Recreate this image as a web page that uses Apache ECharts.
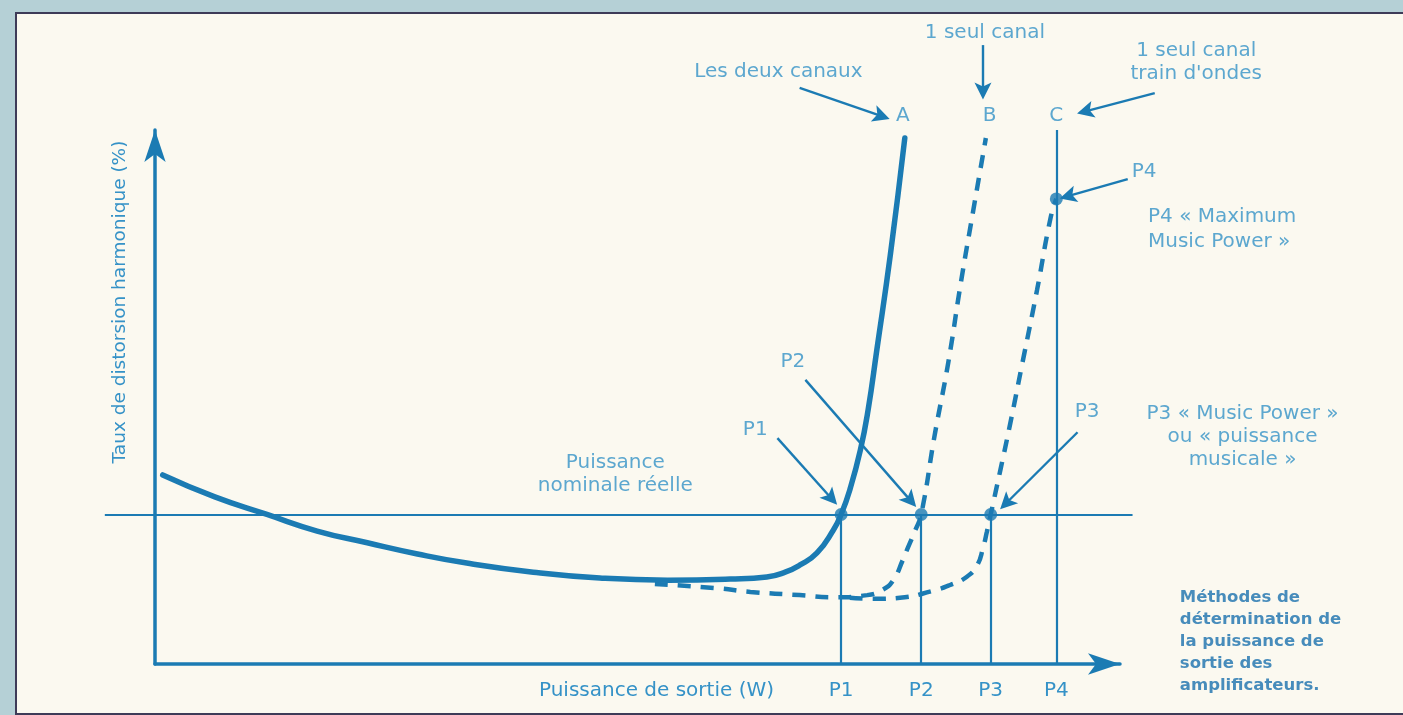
<!DOCTYPE html>
<html>
<head>
<meta charset="utf-8">
<script src="https://cdn.jsdelivr.net/npm/echarts@6/dist/echarts.min.js"></script>
<style>
  html,body{margin:0;padding:0;width:1403px;height:715px;overflow:hidden;background:#b5d0d6;}
  #frame{position:absolute;left:15px;top:12px;width:1400px;height:699px;background:#fbf9f0;border-left:2px solid #3e3b58;border-top:2px solid #3e3b58;border-bottom:2px solid #3e3b58;}
  #chart{position:absolute;left:0;top:0;width:1403px;height:715px;}
</style>
</head>
<body>
<div id="frame"></div>
<div id="chart"></div>
<script>
// ---- data (x: puissance de sortie, y: taux de distorsion, arbitrary units) ----
const curveA = [[0.8,35.4],[6.2,31.3],[11.6,28.0],[16.8,24.9],[22.0,22.7],[27.2,20.6],[32.3,18.9],[39.2,17.2],[46.1,16.1],[53.1,15.7],[59.6,15.9],[63.4,16.3],[65.3,17.2],[66.8,18.5],[68.6,20.8],[70.3,25.1],[71.1,28.0],[72.0,32.6],[73.1,40.1],[73.9,47.6],[74.8,58.8],[76.2,76.6],[77.7,98.5]];
const curveB = [[51.8,15.0],[58.2,14.2],[61.7,13.5],[66.8,12.9],[70.3,12.5],[73.8,12.9],[75.4,13.9],[76.5,15.7],[77.5,19.5],[78.0,21.7],[78.8,25.1],[79.4,28.0],[80.8,42.9],[82.2,56.4],[83.5,71.3],[84.8,85.0],[86.1,98.5]];
const curveC = [[72.0,12.4],[74.8,12.2],[77.2,12.4],[80.6,13.7],[82.4,14.8],[84.1,16.3],[85.2,18.5],[85.8,21.7],[86.2,24.7],[86.6,28.0],[87.6,36.3],[88.6,44.8],[89.8,55.6],[91.4,70.0],[92.8,83.5],[93.4,87.1]];
const nominalLevel = 28.0;
const nominalSpan = [-5.2, 101.3];
const tickLabels = ['P1','P2','P3','P4'];
const tickValues = [71.1, 79.4, 86.6, 93.4];
const pointValues = [[71.1,28.0],[79.4,28.0],[86.6,28.0],[93.4,87.1]];
const verticalTops = [28.0, 28.0, 28.0, 100];
// annotation arrows [from, to]
const arrowFrom = [[66.8,107.9],[85.8,115.9],[103.6,106.9],[100.8,90.8],[67.4,53.2],[64.5,42.3],[95.6,43.4]];
const arrowTo   = [[75.3,102.6],[85.8,107.3],[96.4,103.5],[94.6,87.6],[78.3,30.6],[70.1,31.0],[88.2,30.1]];
// centred annotation texts
const centerTexts = ['Les deux canaux','1 seul canal','1 seul canal\ntrain d\'ondes','A','B','C','P4','P2','P1','P3','P3 « Music Power »\nou « puissance\nmusicale »','Puissance\nnominale réelle'];
const centerPos = [[64.6,110.9],[86.0,118.2],[107.9,112.6],[77.5,102.6],[86.5,102.6],[93.4,102.6],[102.5,92.1],[66.1,56.6],[62.2,43.8],[96.6,47.2],[112.7,42.5],[47.7,35.6]];
// left-aligned texts
const leftTexts = ['P4 « Maximum\nMusic Power »'];
const leftPos = [[102.9,81.4]];
const titleText = 'Méthodes de\ndétermination de\nla puissance de\nsortie des\namplificateurs.';
const titlePos = [106.2, 4.1];
const xName = 'Puissance de sortie (W)';
const yName = 'Taux de distorsion harmonique (%)';

// ---- styles ----
const LINE = '#1b7bb3';
const TEXT = '#3592c7';
const FONT = 'DejaVu Sans';

const chart = echarts.init(document.getElementById('chart'), null, {renderer:'canvas'});

// straight thin guide lines (nominal level + verticals)
const guides = [{coords:[[nominalSpan[0],nominalLevel],[nominalSpan[1],nominalLevel]]}]
  .concat(tickValues.map((v,i)=>({coords:[[v,0],[v,verticalTops[i]]]})));

const series = [];
series.push({type:'lines', coordinateSystem:'cartesian2d', clip:false, data:guides,
  symbol:['none','none'], lineStyle:{color:LINE,width:2.2,opacity:1}, silent:true, z:2});
// curves
series.push({type:'line', data:curveB, symbol:'none', smooth:0.5,
  lineStyle:{color:LINE,width:4.5,type:[13,10]}, z:3});
series.push({type:'line', data:curveC, symbol:'none', smooth:0.5,
  lineStyle:{color:LINE,width:4.5,type:[13,10]}, z:3});
series.push({type:'line', data:curveA, symbol:'none', smooth:0.5,
  lineStyle:{color:LINE,width:5.5,cap:'round'}, z:4});
// dots
series.push({type:'scatter', data:pointValues, symbol:'circle', symbolSize:13, clip:false,
  itemStyle:{color:LINE}, z:5});
// arrows
series.push({type:'lines', coordinateSystem:'cartesian2d', clip:false,
  data: arrowFrom.map((f,i)=>({coords:[f, arrowTo[i]]})),
  symbol:['none','path://M0,0 L5,13 L0,10 L-5,13 Z'], symbolSize:[0,17],
  lineStyle:{color:LINE,width:2.4,opacity:1}, z:5});
// centred texts
series.push({type:'scatter', clip:false, symbolSize:0,
  data: centerPos.map((p,i)=>({value:p, name:centerTexts[i]})),
  label:{show:true, position:'inside', formatter:'{b}', color:TEXT, fontFamily:FONT, fontSize:20, lineHeight:23, align:'center'},
  z:6});
series.push({type:'scatter', clip:false, symbolSize:0,
  data: leftPos.map((p,i)=>({value:p, name:leftTexts[i]})),
  label:{show:true, position:'right', distance:0, formatter:'{b}', color:TEXT, fontFamily:FONT, fontSize:20, lineHeight:25, align:'left'},
  z:6});
series.push({type:'scatter', clip:false, symbolSize:0,
  data: [{value:titlePos, name:titleText}],
  label:{show:true, position:'right', distance:0, formatter:'{b}', color:'#1a70ae', fontFamily:FONT, fontWeight:'bold', fontSize:16.5, lineHeight:22, align:'left'},
  z:6});

chart.setOption({
  backgroundColor:'transparent',
  animation:false,
  grid:{left:155, right:283, top:130, bottom:51, containLabel:false, outerBoundsMode:'none'},
  xAxis:{type:'value', min:0, max:100,
    axisLine:{show:true, onZero:false, symbol:['none','arrow'], symbolSize:[16,32], symbolOffset:[0,0], lineStyle:{color:LINE,width:3.5}},
    axisTick:{show:false}, splitLine:{show:false},
    axisLabel:{show:true, customValues:tickValues, margin:17, color:TEXT, fontFamily:FONT, fontSize:20,
      formatter:(v)=>{const i=tickValues.findIndex(t=>Math.abs(t-v)<1e-6); return i>=0?tickLabels[i]:'';}},
    name:xName, nameLocation:'middle', nameGap:17, nameMoveOverlap:false,
    nameTextStyle:{color:TEXT, fontFamily:FONT, fontSize:20, padding:[0,0,0,38], verticalAlign:'top'}
  },
  yAxis:{type:'value', min:0, max:100,
    axisLine:{show:true, onZero:false, symbol:['none','arrow'], symbolSize:[16,32], symbolOffset:[0,0], lineStyle:{color:LINE,width:3.5}},
    axisTick:{show:false}, splitLine:{show:false}, axisLabel:{show:false},
    name:yName, nameLocation:'middle', nameGap:25, nameRotate:90, nameMoveOverlap:false,
    nameTextStyle:{color:TEXT, fontFamily:FONT, fontSize:18.5, padding:[0,0,0,190]}
  },
  series:series
});
</script>
</body>
</html>
